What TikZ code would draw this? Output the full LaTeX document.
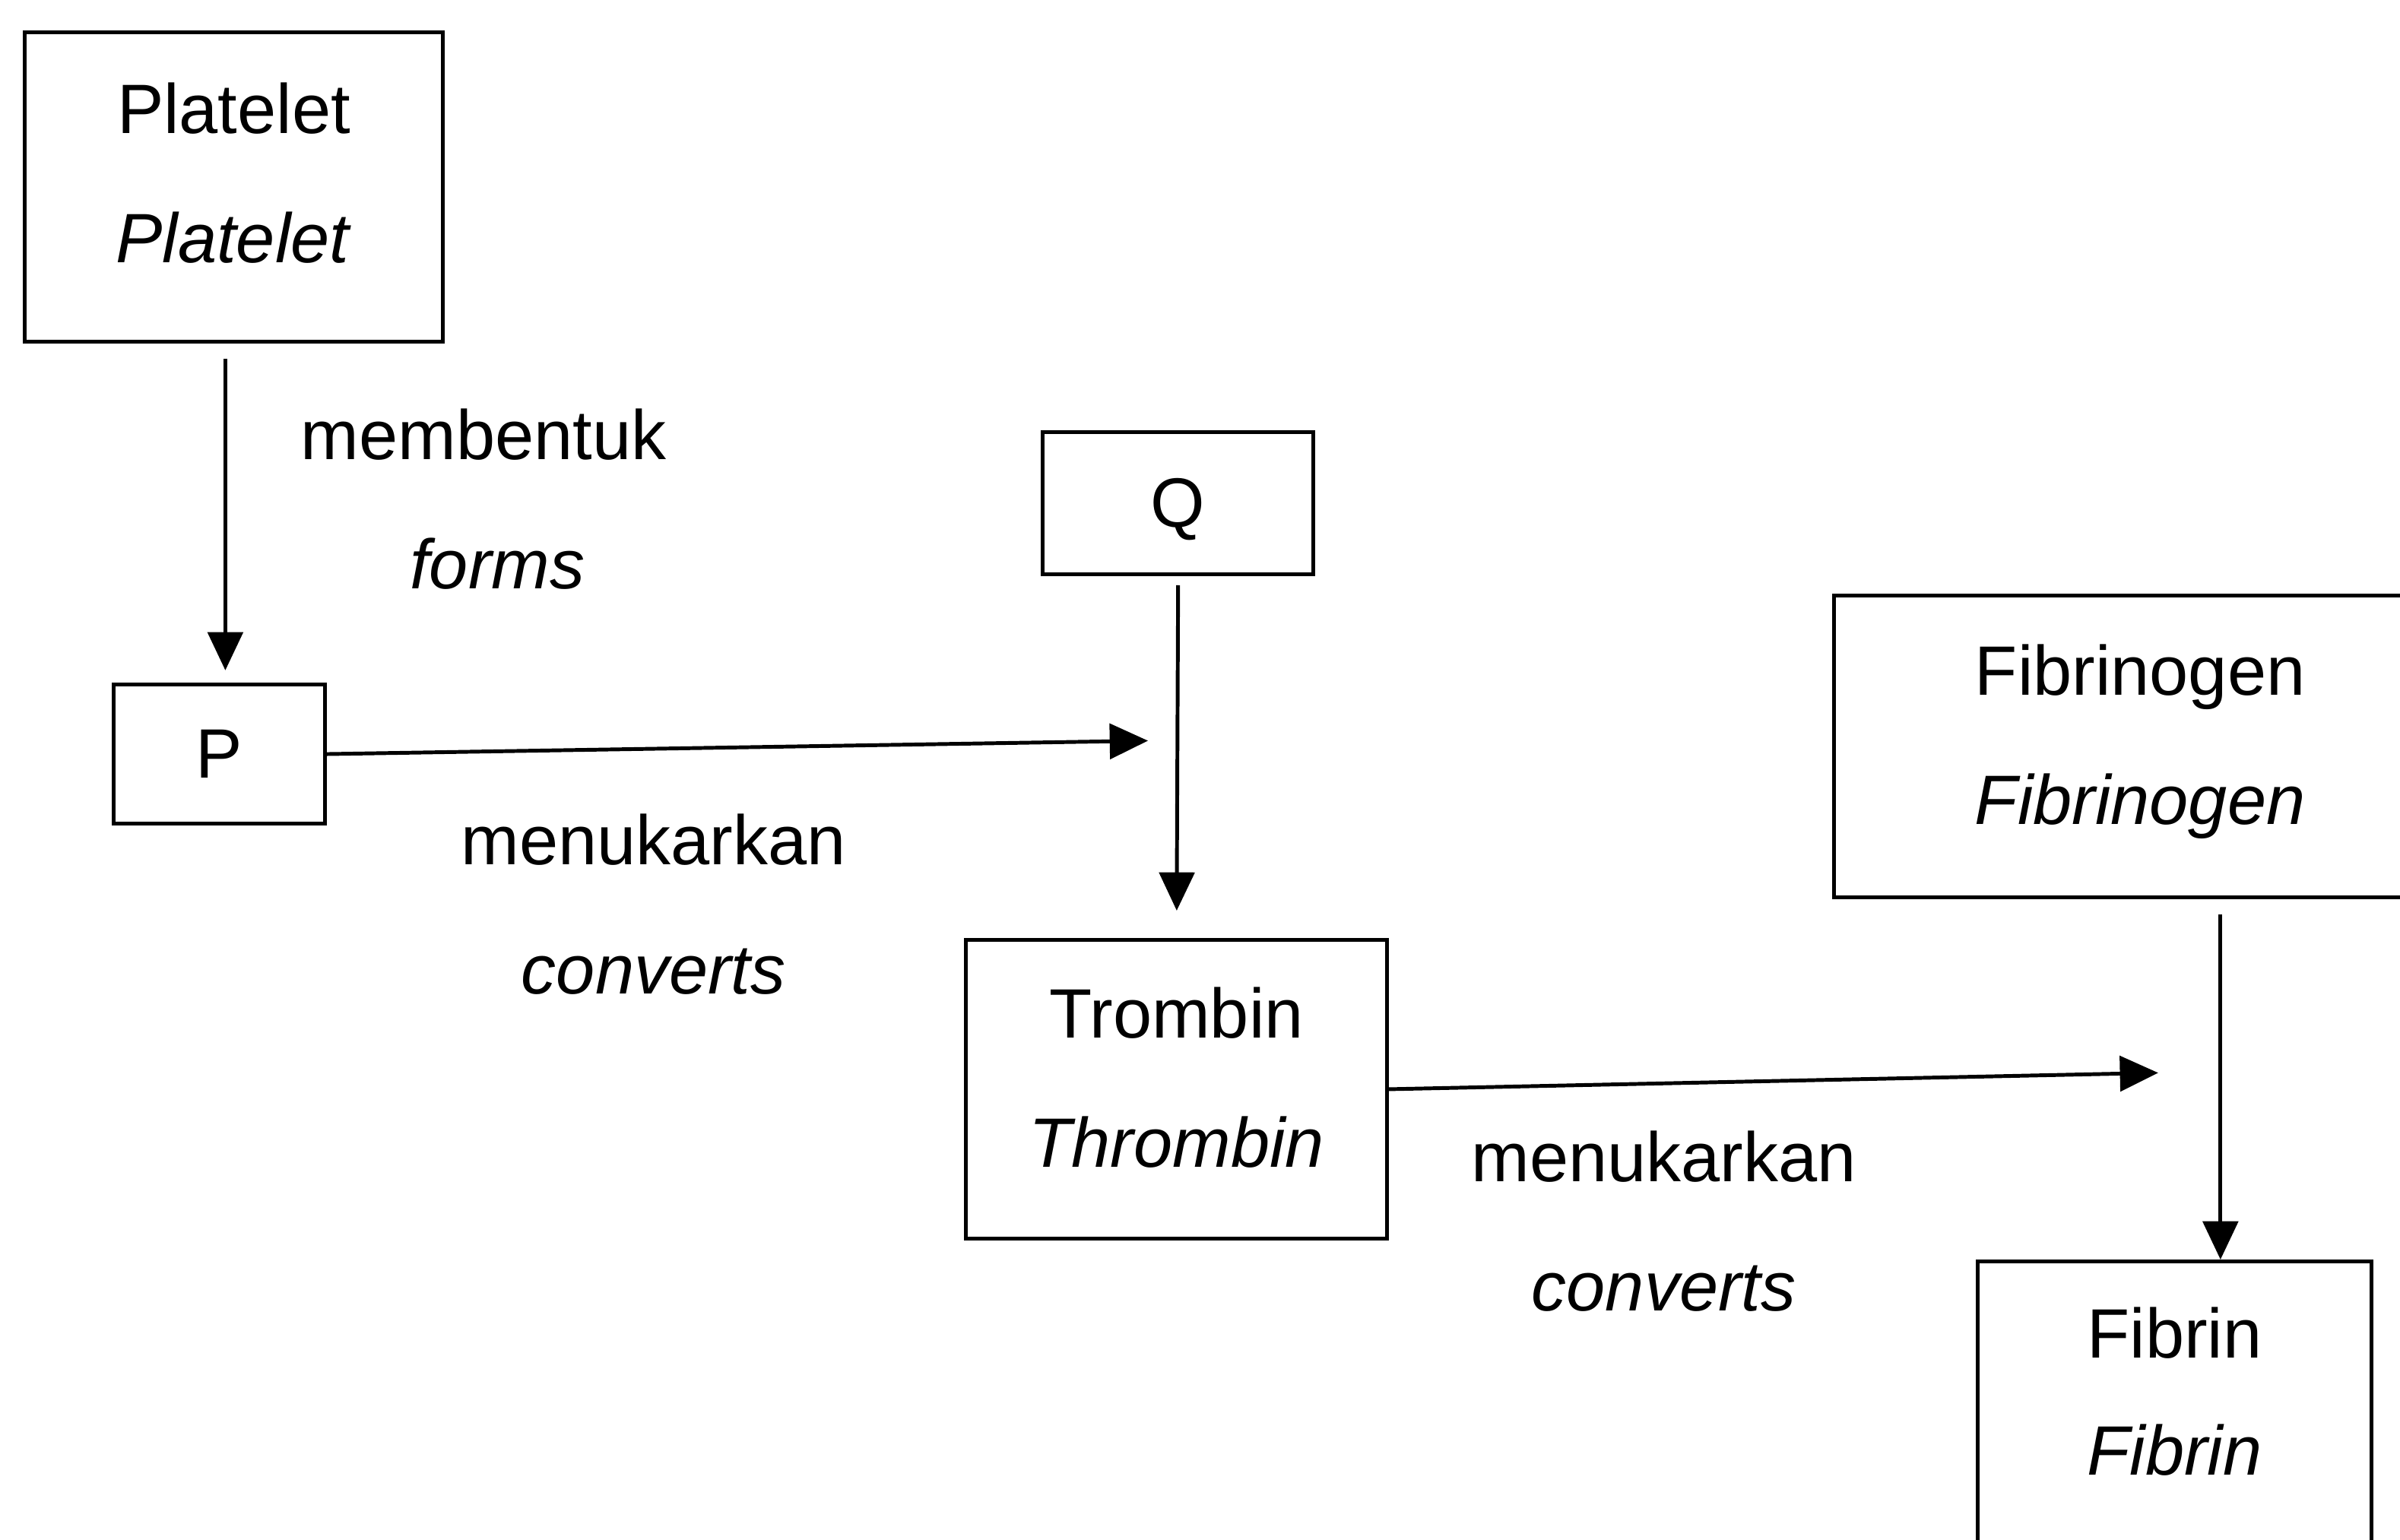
\documentclass[tikz,border=0pt]{standalone}
\usepackage{fontspec}
\setmainfont{Liberation Sans}
\usetikzlibrary{arrows.meta}
\tikzset{
  box/.style={draw,line width=1.4pt,anchor=north west,align=center,inner sep=0pt},
  lbl/.style={align=center},
  arr/.style={line width=1.4pt,-{Triangle[length=5mm,width=4.6mm]}}
}

\begin{document}
\begin{tikzpicture}[x=0.02cm,y=-0.02cm,font=\fontsize{26}{48}\selectfont]
\useasboundingbox (0,0) rectangle (1568,1006);
\node[box,text width=5.46cm,text height=1.32cm,text depth=2.72cm] (platelet) at (15,20) {Platelet\\\textit{Platelet}};
\node[box,text width=2.76cm,text height=1.22cm,text depth=0.6cm] (p) at (73,446) {P};
\node[box,text width=3.54cm,text height=1.24cm,text depth=0.62cm] (q) at (680,281) {Q};
\node[box,text width=5.5cm,text height=1.28cm,text depth=2.62cm] (trombin) at (630,613) {Trombin\\\textit{Thrombin}};
\node[box,text width=8cm,text height=1.3cm,text depth=2.64cm] (fibrinogen) at (1197,388) {Fibrinogen\\\textit{Fibrinogen}};
\node[box,text width=5.14cm,text height=1.26cm,text depth=2.54cm] (fibrin) at (1291,823) {Fibrin\\[-0.16cm]\textit{Fibrin}};

\node[lbl] (forms) at (316,326) {membentuk\\\hspace*{0.36cm}\textit{forms}};
\node[lbl] (conv1) at (427,591) {menukarkan\\\textit{converts}};
\node[lbl] (conv2) at (1087,798) {menukarkan\\\textit{converts}};

\draw[arr,shorten <=0.2cm,shorten >=0.16cm] ([xshift=0.08cm]p.north |- platelet.south) -- ([xshift=0.08cm]p.north);
\coordinate (pq) at (750,484);
\draw[arr] (p.east) -- (pq);
\draw[arr,shorten <=0.12cm,shorten >=0.36cm] (q.south) -- (trombin.north);
\coordinate (tf) at (1410,701);
\draw[arr] (trombin.east) -- (tf);
\coordinate (fa) at ([xshift=0.6cm]fibrin.north);
\draw[arr,shorten <=0.2cm] (fa |- fibrinogen.south) -- (fa);
\end{tikzpicture}
\end{document}
